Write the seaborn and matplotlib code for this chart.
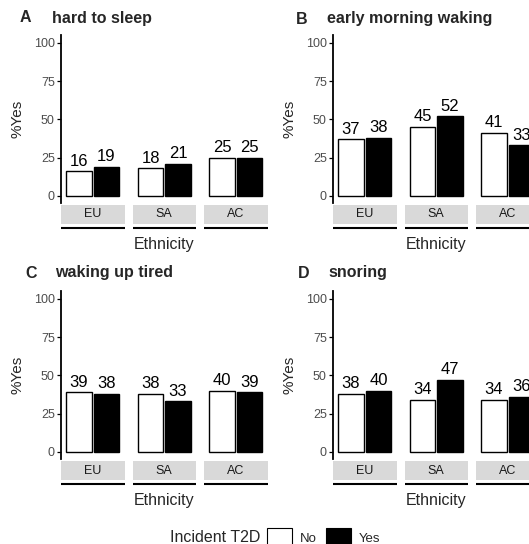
import pandas as pd
import matplotlib
matplotlib.use('Agg')
import matplotlib.pyplot as plt
import seaborn as sns
from matplotlib.patches import Patch

# values
ethnicity = ['EU', 'SA', 'AC']
t2d_levels = ['No', 'Yes']

hard_no = [16, 18, 25]
hard_yes = [19, 21, 25]
early_no = [37, 45, 41]
early_yes = [38, 52, 33]
tired_no = [39, 38, 40]
tired_yes = [38, 33, 39]
snore_no = [38, 34, 34]
snore_yes = [40, 47, 36]

panels = [
    ('A', 'hard to sleep', hard_no, hard_yes),
    ('B', 'early morning waking', early_no, early_yes),
    ('C', 'waking up tired', tired_no, tired_yes),
    ('D', 'snoring', snore_no, snore_yes),
]

sns.set_theme(style='white')
plt.rcParams['font.family'] = ['Liberation Sans', 'DejaVu Sans']

W, H = 529, 544
fig = plt.figure(figsize=(W / 100, H / 100), dpi=100)


def px_axes(x0, x1, y0, y1):
    # place an axes using pixel coordinates measured from the top-left corner
    return fig.add_axes([x0 / W, 1 - y1 / H, (x1 - x0) / W, (y1 - y0) / H])


# panel origin (y axis x position, panel top) and title positions
origins = {'A': (61, 35), 'B': (333, 35), 'C': (61, 291), 'D': (333, 291)}
title_pos = {'A': (20, 52, 18), 'B': (296, 327, 19), 'C': (25, 55, 273), 'D': (298, 328, 273)}
palette = {'No': 'white', 'Yes': 'black'}
panel_h = 168
facet_w = 63.5
facet_step = 71.5

for letter, title, no_vals, yes_vals in panels:
    df = pd.DataFrame({
        'Ethnicity': ethnicity * 2,
        'T2D': ['No'] * 3 + ['Yes'] * 3,
        'pct': no_vals + yes_vals,
    })
    px, py = origins[letter]

    for j, eth in enumerate(ethnicity):
        fx0 = px + j * facet_step
        fx1 = fx0 + facet_w
        ax = px_axes(fx0, fx1, py, py + panel_h)
        sns.barplot(data=df[df['Ethnicity'] == eth], x='Ethnicity', y='pct',
                    hue='T2D', hue_order=t2d_levels, palette=palette,
                    edgecolor='black', linewidth=1.0, width=0.9, gap=0.06,
                    legend=False, ax=ax)
        ax.set_xlim(-0.52, 0.52)
        ax.set_ylim(-4.6, 105.2)
        ax.set_xlabel('')
        ax.set_ylabel('')
        ax.set_xticks([])
        ax.patch.set_alpha(0)
        for c in ax.containers:
            ax.bar_label(c, fmt='%d', padding=2, fontsize=12, color='black')
        for s in ax.spines.values():
            s.set_visible(False)
        if j == 0:
            ax.spines['left'].set_visible(True)
            ax.spines['left'].set_color('black')
            ax.spines['left'].set_linewidth(1.3)
            ax.set_yticks([0, 25, 50, 75, 100])
            ax.tick_params(axis='y', left=True, length=3, width=0.9, color='black',
                           labelsize=9, labelcolor='#4d4d4d', pad=1.5)
        else:
            ax.set_yticks([])

        # facet strip below the panel
        sx = px_axes(fx0, fx1, py + panel_h, py + panel_h + 28)
        sx.set_xlim(0, 1)
        sx.set_ylim(28, 0)
        sx.axis('off')
        sx.axhspan(2, 21, color='#d9d9d9', lw=0)
        sx.axhline(25, color='black', lw=1.5)
        sx.text(0.5, 11.5, eth, ha='center', va='center', fontsize=9, color='#1a1a1a')

    # titles and axis labels
    lx, tx, ty = title_pos[letter]
    fig.text(lx / W, 1 - ty / H, letter, fontsize=11.5, fontweight='bold', va='center')
    fig.text(tx / W, 1 - ty / H, title, fontsize=11.5, fontweight='bold', va='center')
    fig.text((px - 44) / W, 1 - (py + panel_h / 2) / H, '%Yes', rotation=90,
             ha='center', va='center', fontsize=11)
    fig.text((px + (2 * facet_step + facet_w) / 2) / W, 1 - (py + panel_h + 41) / H,
             'Ethnicity', ha='center', va='center', fontsize=11.5)

# legend along the bottom
fig.text(260 / W, 1 - 538 / H, 'Incident T2D', ha='right', va='center', fontsize=11.5)
handles = [Patch(facecolor=palette[k], edgecolor='black', linewidth=0.8) for k in t2d_levels]
fig.legend(handles, t2d_levels, ncol=2, loc='center left',
           bbox_to_anchor=(267 / W, 1 - 538 / H), frameon=False, fontsize=9.5,
           handlelength=1.9, handleheight=2.0, handletextpad=0.6,
           columnspacing=0.7, borderpad=0, borderaxespad=0)

fig.savefig('out.png', dpi=100)
